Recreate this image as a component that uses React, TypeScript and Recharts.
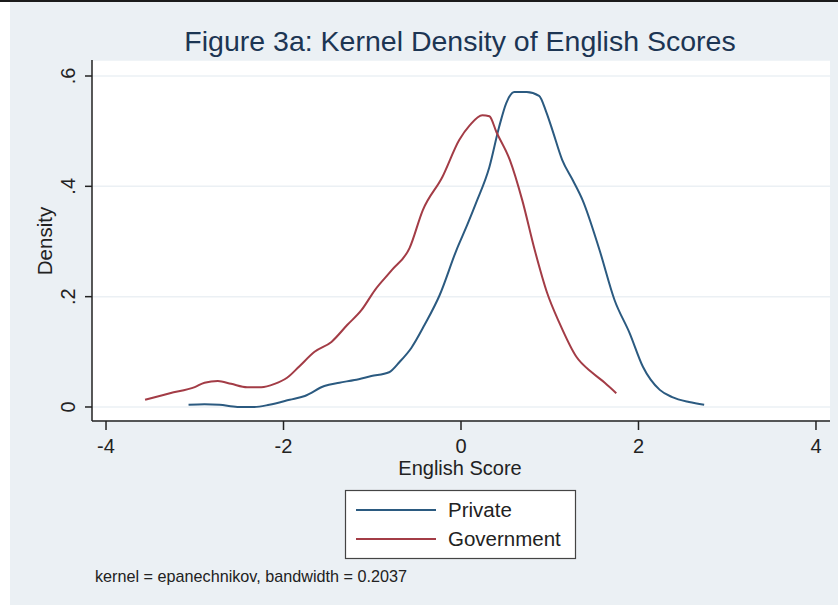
import React from "react";
import { CartesianGrid, Line, LineChart, XAxis, YAxis } from "recharts";

// English score grid points and estimated densities
const privateScore = [
  -3.07, -2.89, -2.72, -2.52, -2.33, -2.16, -1.93, -1.76, -1.54, -1.37, -1.2, -1.01, -0.81,
  -0.69, -0.56, -0.41, -0.24, -0.05, 0.07, 0.17, 0.32, 0.43, 0.51, 0.6, 0.74, 0.88, 0.96,
  1.03, 1.14, 1.26, 1.37, 1.56, 1.73, 1.9, 2.05, 2.24, 2.38, 2.57, 2.74,
];
const privateDensity = [
  0.004, 0.005, 0.004, 0.0, 0.0, 0.004, 0.013, 0.02, 0.038, 0.044, 0.049, 0.056, 0.063,
  0.082, 0.107, 0.149, 0.203, 0.285, 0.33, 0.37, 0.435, 0.508, 0.551, 0.571, 0.571, 0.564,
  0.535, 0.502, 0.448, 0.411, 0.375, 0.285, 0.194, 0.134, 0.073, 0.031, 0.018, 0.009, 0.004,
];

const govScore = [
  -3.56, -3.28, -3.0, -2.89, -2.74, -2.59, -2.41, -2.25, -2.1, -1.96, -1.82, -1.65, -1.46,
  -1.28, -1.12, -0.97, -0.78, -0.58, -0.43, -0.21, -0.02, 0.1, 0.24, 0.32, 0.4, 0.55, 0.69,
  0.83, 0.97, 1.11, 1.3, 1.48, 1.62, 1.75,
];
const govDensity = [
  0.013, 0.025, 0.036, 0.044, 0.047, 0.042, 0.036, 0.036, 0.042, 0.053, 0.074, 0.1, 0.118,
  0.149, 0.176, 0.212, 0.248, 0.288, 0.357, 0.417, 0.484, 0.511, 0.529, 0.527, 0.498, 0.448,
  0.375, 0.285, 0.207, 0.152, 0.091, 0.062, 0.044, 0.025,
];

const xTicks = [-4, -2, 0, 2, 4];
const yTicks = [0, 0.2, 0.4, 0.6];

const privateData = privateScore.map((x, i) => ({ x, d: privateDensity[i] }));
const govData = govScore.map((x, i) => ({ x, d: govDensity[i] }));

const FONT = '"Liberation Sans", Arial, sans-serif';
const BG = "#ebf0f4";
const BLUE = "#2b5a80";
const RED = "#a33c46";

const fmtY = (v: number) => (v === 0 ? "0" : String(v).replace(/^0/, ""));

function YTick({ x, y, payload }: { x?: number; y?: number; payload?: { value: number } }) {
  return (
    <text
      x={x}
      y={y}
      transform={`rotate(-90, ${x}, ${y})`}
      textAnchor="middle"
      fontSize={20}
      fontFamily={FONT}
      fill="#222"
    >
      {fmtY(payload?.value ?? 0)}
    </text>
  );
}

export default function App() {
  return (
    <div style={{ position: "absolute", left: 0, top: 0, width: 838, height: 605, background: "#fff" }}>
      <div style={{ position: "absolute", left: 0, top: 0, width: 838, height: 2, background: "#1b1b1b" }} />
      <div style={{ position: "absolute", left: 10, top: 2, width: 828, height: 603, background: BG }} />
      <div style={{ position: "absolute", left: 0, top: 0 }}>
        <LineChart width={838} height={605} margin={{ top: 60, right: 8, left: 0, bottom: 154 }}>
          <CartesianGrid vertical={false} stroke={BG} strokeWidth={1.5} fill="#fff" />
          <XAxis
            dataKey="x"
            type="number"
            domain={[-4.158, 4.158]}
            ticks={xTicks}
            allowDataOverflow
            height={30}
            tickSize={9}
            tickMargin={9}
            stroke="#222"
            strokeWidth={1.5}
            tick={{ fontSize: 20, fontFamily: FONT, fill: "#222" }}
          />
          <YAxis
            type="number"
            domain={[-0.0254, 0.629]}
            ticks={yTicks}
            allowDataOverflow
            width={92}
            tickSize={7}
            tickMargin={10}
            stroke="#222"
            strokeWidth={1.5}
            tick={<YTick />}
          />
          <Line
            data={privateData}
            dataKey="d"
            type="monotone"
            stroke={BLUE}
            strokeWidth={2}
            dot={false}
            activeDot={false}
            isAnimationActive={false}
          />
          <Line
            data={govData}
            dataKey="d"
            type="monotone"
            stroke={RED}
            strokeWidth={2}
            dot={false}
            activeDot={false}
            isAnimationActive={false}
          />
        </LineChart>
      </div>
      <svg
        width={838}
        height={605}
        style={{ position: "absolute", left: 0, top: 0, pointerEvents: "none" }}
        fontFamily={FONT}
      >
        <text x={460} y={51} textAnchor="middle" fontSize={28.5} fill="#1c3553">
          Figure 3a: Kernel Density of English Scores
        </text>
        <text x={52} y={241} transform="rotate(-90, 52, 241)" textAnchor="middle" fontSize={20.5} fill="#222">
          Density
        </text>
        <text x={460} y={475} textAnchor="middle" fontSize={20} fill="#222">
          English Score
        </text>
        <rect x={345.5} y={490.5} width={230} height={68} fill="#fff" stroke="#444" strokeWidth={1.2} />
        <line x1={356} x2={436} y1={510} y2={510} stroke={BLUE} strokeWidth={2} />
        <line x1={356} x2={436} y1={539} y2={539} stroke={RED} strokeWidth={2} />
        <text x={448} y={517} fontSize={20.5} fill="#222">
          Private
        </text>
        <text x={448} y={546} fontSize={20.5} fill="#222">
          Government
        </text>
        <text x={95} y={582} fontSize={16.2} fill="#222">
          kernel = epanechnikov, bandwidth = 0.2037
        </text>
      </svg>
    </div>
  );
}
